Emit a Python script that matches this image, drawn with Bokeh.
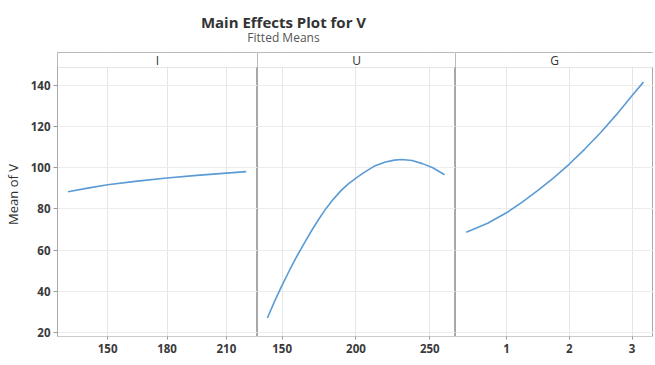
from bokeh.plotting import figure
from bokeh.models import Range1d, FixedTicker, BoxAnnotation, Label, Grid
from bokeh.layouts import column, row
from bokeh.embed import file_html
from bokeh.resources import INLINE

# ---- data ----
y_ticks = [20, 40, 60, 80, 100, 120, 140]

I_levels = [130, 140, 150, 165, 180, 195, 210, 220]
I_means = [88.3, 90.1, 91.7, 93.5, 95.0, 96.3, 97.4, 98.1]
I_ticks = [150, 180, 210]

U_levels = [140, 145, 150, 155, 160, 165, 170, 175, 180, 185, 190, 195, 200, 205,
            213, 220, 226, 231, 238, 245, 252, 260]
U_means = [27.0, 35.3, 43.0, 50.2, 57.0, 63.4, 69.5, 75.2, 80.5, 85.0, 89.0, 92.3,
           95.0, 97.5, 101.0, 102.8, 103.7, 104.0, 103.5, 102.0, 100.0, 96.6]
U_ticks = [150, 200, 250]

G_levels = [0.36, 0.7, 1.0, 1.25, 1.5, 1.75, 2.0, 2.25, 2.5, 2.75, 3.0, 3.18]
G_means = [68.7, 73.0, 78.1, 83.3, 89.0, 95.1, 101.8, 109.2, 117.1, 125.8, 135.1, 141.6]
G_ticks = [1, 2, 3]

panels = [
    ("I", I_levels, I_means, I_ticks, (124.7, 225.7)),
    ("U", U_levels, U_means, U_ticks, (133.3, 267.4)),
    ("G", G_levels, G_means, G_ticks, (0.188, 3.34)),
]

LINE = "#5b9bd5"
BORDER = "#a8a8a8"
TXT = "#333333"
FONT = "Open Sans"

HEAD_H = 52
TOTAL_W = 653

# ---- header with title ----
header = figure(width=TOTAL_W, height=HEAD_H, output_backend="svg", toolbar_location=None,
                x_range=Range1d(0, TOTAL_W), y_range=Range1d(0, HEAD_H),
                min_border=0, outline_line_color=None,
                x_axis_location=None, y_axis_location=None)
header.grid.visible = False
header.add_layout(Label(x=283, y=HEAD_H - 21, text="Main Effects Plot for V", text_align="center",
                        text_baseline="middle", text_font=FONT, text_font_size="15px",
                        text_font_style="bold", text_color="#333333"))
header.add_layout(Label(x=283, y=HEAD_H - 37, text="Fitted Means", text_align="center",
                        text_baseline="middle", text_font=FONT, text_font_size="12px",
                        text_color="#555555"))

figs = []
y_lo, y_hi = 18.0, 156.0
strip_bottom = 148.7
for i, (name, xs, ys, ticks, xr) in enumerate(panels):
    first = i == 0
    w = 257 if first else 198
    p = figure(width=w, height=306, output_backend="svg", toolbar_location=None,
               x_range=Range1d(*xr), y_range=Range1d(y_lo, y_hi),
               y_axis_location="left" if first else None,
               min_border_left=57 if first else 0, min_border_right=0,
               min_border_top=0, min_border_bottom=22,
               outline_line_color=BORDER, outline_line_width=1,
               background_fill_color="white", border_fill_color="white")
    # x axis
    p.xaxis.ticker = FixedTicker(ticks=ticks)
    p.xaxis.minor_tick_line_color = None
    p.xaxis.major_tick_in = 0
    p.xaxis.major_tick_out = 3
    p.xaxis.major_tick_line_color = "#999999"
    p.xaxis.axis_line_color = "#cccccc"
    p.xaxis.major_label_text_font = FONT
    p.xaxis.major_label_text_font_size = "11.5px"
    p.xaxis.major_label_text_font_style = "bold"
    p.xaxis.major_label_text_color = "#3a3a3a"
    p.xaxis.major_label_standoff = 4
    p.xgrid.ticker = FixedTicker(ticks=ticks)
    p.xgrid.grid_line_color = "#e6e6e6"
    # y axis / grid
    if first:
        p.yaxis.ticker = FixedTicker(ticks=y_ticks)
        p.yaxis.minor_tick_line_color = None
        p.yaxis.major_tick_in = 0
        p.yaxis.major_tick_out = 4
        p.yaxis.major_tick_line_color = "#999999"
        p.yaxis.axis_line_color = None
        p.yaxis.major_label_text_font = FONT
        p.yaxis.major_label_text_font_size = "11.5px"
        p.yaxis.major_label_text_font_style = "bold"
        p.yaxis.major_label_text_color = "#3a3a3a"
        p.yaxis.major_label_standoff = 3
        p.yaxis.axis_label = "Mean of V"
        p.yaxis.axis_label_text_font = FONT
        p.yaxis.axis_label_text_font_size = "13px"
        p.yaxis.axis_label_text_font_style = "normal"
        p.yaxis.axis_label_text_color = TXT
        p.yaxis.axis_label_standoff = 6
    if len(p.ygrid) == 0:
        p.add_layout(Grid(dimension=1, ticker=FixedTicker(ticks=y_ticks)))
    for g in p.ygrid:
        g.ticker = FixedTicker(ticks=y_ticks)
        g.grid_line_color = "#ececec"

    p.line(x=xs, y=ys, line_color=LINE, line_width=1.6)

    # facet strip
    p.add_layout(BoxAnnotation(bottom=strip_bottom, fill_color="white", fill_alpha=1.0,
                               line_color=BORDER, line_width=1))
    p.add_layout(Label(x=(xr[0] + xr[1]) / 2, y=(strip_bottom + y_hi) / 2, text=name,
                       text_align="center", text_baseline="middle", text_font=FONT,
                       text_font_size="12px", text_color=TXT))
    figs.append(p)

layout = column(header, row(*figs, spacing=0), spacing=0)

with open("out.html", "w") as f:
    f.write(file_html(layout, INLINE))
